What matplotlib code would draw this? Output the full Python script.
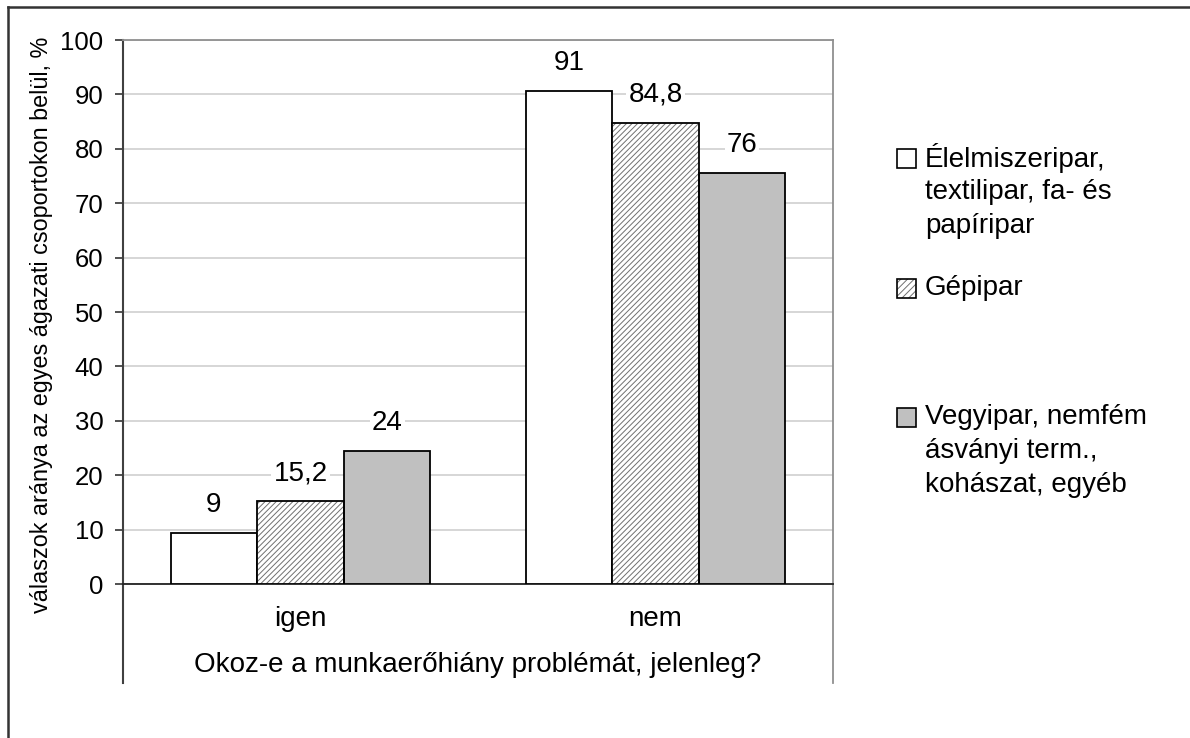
import numpy as np
import matplotlib
matplotlib.use("Agg")
import matplotlib.pyplot as plt
from matplotlib.patches import Rectangle
from matplotlib.lines import Line2D

# Data
categories = ["igen", "nem"]
series_names = [
    "Élelmiszeripar,\ntextilipar, fa- és\npapíripar",
    "Gépipar",
    "Vegyipar, nemfém\násványi term.,\nkohászat, egyéb",
]
values = [
    [9.4, 90.6],    # Élelmiszeripar...
    [15.2, 84.8],   # Gépipar
    [24.4, 75.6],   # Vegyipar...
]
value_labels = [
    ["9", "91"],
    ["15,2", "84,8"],
    ["24", "76"],
]
y_ticks = [0, 10, 20, 30, 40, 50, 60, 70, 80, 90, 100]
y_label = "válaszok aránya az egyes ágazati csoportokon belül, %"
x_label = "Okoz-e a munkaerőhiány problémát, jelenleg?"

plt.rcParams["font.family"] = ["Liberation Sans", "DejaVu Sans"]
plt.rcParams["hatch.linewidth"] = 0.7

W, H = 1190, 738
fig = plt.figure(figsize=(W / 100, H / 100), dpi=100)


def px(x, y):
    # pixel coords (top-left origin) -> figure fraction
    return x / W, 1 - y / H


# axes placed to match the plot area
left, top = px(123, 40)
right, bottom = px(833, 584)
ax = fig.add_axes([left, bottom, right - left, top - bottom])

styles = [
    dict(facecolor="white", hatch=None),
    dict(facecolor="white", hatch="//////"),
    dict(facecolor="#c0c0c0", hatch=None),
]

x = np.arange(len(categories))
width = 0.244
offsets = [-width, 0, width]

for i, vals in enumerate(values):
    st = styles[i]
    xs = x + offsets[i]
    if st["hatch"]:
        ax.bar(xs, vals, width, color=st["facecolor"], edgecolor="#707070",
               hatch=st["hatch"], linewidth=0, zorder=3)
        ax.bar(xs, vals, width, fill=False, edgecolor="black", linewidth=1.3, zorder=4)
    else:
        ax.bar(xs, vals, width, color=st["facecolor"], edgecolor="black",
               linewidth=1.3, zorder=3)
    for xx, v, lab in zip(xs, vals, value_labels[i]):
        ax.annotate(lab, (xx, v), xytext=(0, 20), textcoords="offset points",
                    ha="center", va="center", fontsize=20,
                    bbox=dict(facecolor="white", edgecolor="none", pad=1.5),
                    zorder=5)

ax.set_xlim(-0.5, 1.5)
ax.set_ylim(0, 100)
ax.set_yticks(y_ticks)
ax.set_yticklabels([str(t) for t in y_ticks], fontsize=18.5)
ax.tick_params(axis="y", length=6, width=1.2, color="#333333", pad=8)
ax.set_xticks(x)
ax.set_xticklabels(categories, fontsize=20)
ax.tick_params(axis="x", length=0, pad=16)
ax.yaxis.grid(True, color="#d0d0d0", linewidth=1.2, zorder=0)
ax.set_axisbelow(True)

for s in ["top", "right"]:
    ax.spines[s].set_color("#909090")
    ax.spines[s].set_linewidth(1.3)
ax.spines["left"].set_color("#404040")
ax.spines["left"].set_linewidth(1.5)
ax.spines["bottom"].set_color("#222222")
ax.spines["bottom"].set_linewidth(1.3)

# category axis box lines extending below the plot
ext = (584 - 683) / (584 - 40)
ax.add_line(Line2D([0, 0], [0, ext], transform=ax.transAxes, color="#404040",
                   linewidth=1.5, clip_on=False))
ax.add_line(Line2D([1, 1], [0, ext], transform=ax.transAxes, color="#909090",
                   linewidth=1.3, clip_on=False))

ax.set_xlabel(x_label, fontsize=20, labelpad=14)
fig.text(*px(42, 325), y_label, rotation=90, ha="center", va="center", fontsize=16.8)

# outer frame (top and left edges)
fig.add_artist(Line2D([8 / W, 1], [1 - 7 / H, 1 - 7 / H], color="#333333", linewidth=1.8))
fig.add_artist(Line2D([8 / W, 8 / W], [1 - 7 / H, 0], color="#333333", linewidth=1.8))

# legend, drawn by hand to keep the uneven spacing
entry_y = [158, 288, 417]
line_step = 34
for i, name in enumerate(series_names):
    st = styles[i]
    sx, sy = px(897, entry_y[i] + 9.5)
    sw, sh = 19 / W, 19 / H
    if st["hatch"]:
        fig.add_artist(Rectangle((sx, sy), sw, sh, transform=fig.transFigure,
                                 facecolor=st["facecolor"], edgecolor="#707070",
                                 hatch="/////", linewidth=0))
        fig.add_artist(Rectangle((sx, sy), sw, sh, transform=fig.transFigure,
                                 fill=False, edgecolor="black", linewidth=1.2))
    else:
        fig.add_artist(Rectangle((sx, sy), sw, sh, transform=fig.transFigure,
                                 facecolor=st["facecolor"], edgecolor="black",
                                 linewidth=1.2))
    for j, line in enumerate(name.split("\n")):
        fig.text(*px(925, entry_y[i] + j * line_step), line, ha="left",
                 va="center", fontsize=20)

fig.savefig("out.png", dpi=100)
